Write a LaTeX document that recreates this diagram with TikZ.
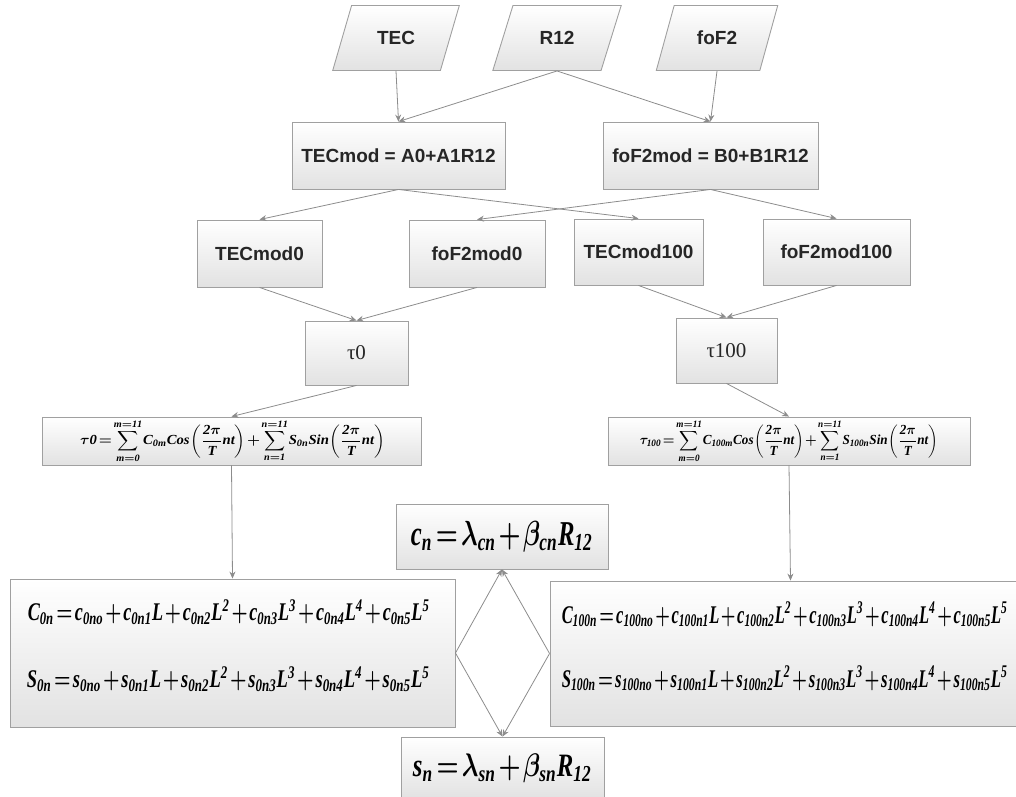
\documentclass[tikz,border=0pt]{standalone}
\usepackage{amsmath}
\usepackage{graphicx}
\usepackage{fontspec}
\setmainfont{Liberation Serif}
\newfontfamily\arialf{Liberation Sans}
\usetikzlibrary{arrows.meta,shapes.geometric,calc}
\definecolor{edgec}{HTML}{A0A0A0}
\definecolor{arrc}{HTML}{8C8C8C}
\definecolor{shadeb}{HTML}{E2E2E2}
\newcommand\tightmath{\thickmuskip=2mu\medmuskip=1.5mu\thinmuskip=1mu}
\newcommand\eqtauzero{\resizebox*{305pt}{43pt}{\tightmath$\displaystyle\mathit{\tau 0=\sum_{m=0}^{m=11}C_{0m}Cos\left(\frac{2\pi}{T}nt\right)+\sum_{n=1}^{n=11}S_{0n}Sin\left(\frac{2\pi}{T}nt\right)}$}}
\newcommand\eqtauhund{\resizebox*{298pt}{43pt}{\tightmath$\displaystyle\mathit{\tau_{100}=\sum_{m=0}^{m=11}C_{100m}Cos\left(\frac{2\pi}{T}nt\right)+\sum_{n=1}^{n=11}S_{100n}Sin\left(\frac{2\pi}{T}nt\right)}$}}
\newcommand\eqczero{\resizebox*{402pt}{25pt}{\tightmath$\mathit{C_{0n}=c_{0no}+c_{0n1}L+c_{0n2}L^2+c_{0n3}L^3+c_{0n4}L^4+c_{0n5}L^5}$}}
\newcommand\eqszero{\resizebox*{403pt}{25pt}{\tightmath$\mathit{S_{0n}=s_{0no}+s_{0n1}L+s_{0n2}L^2+s_{0n3}L^3+s_{0n4}L^4+s_{0n5}L^5}$}}
\newcommand\eqchund{\resizebox*{446pt}{25pt}{\tightmath$\mathit{C_{100n}=c_{100no}+c_{100n1}L+c_{100n2}L^2+c_{100n3}L^3+c_{100n4}L^4+c_{100n5}L^5}$}}
\newcommand\eqshund{\resizebox*{446pt}{25pt}{\tightmath$\mathit{S_{100n}=s_{100no}+s_{100n1}L+s_{100n2}L^2+s_{100n3}L^3+s_{100n4}L^4+s_{100n5}L^5}$}}
\newcommand\eqcn{\resizebox*{182pt}{31pt}{\tightmath$\mathit{c_n=\lambda_{cn}+\beta_{cn}R_{12}}$}}
\newcommand\eqsn{\resizebox*{179pt}{29pt}{\tightmath$\mathit{s_n=\lambda_{sn}+\beta_{sn}R_{12}}$}}
\tikzset{
  box/.style={draw=edgec, line width=0.9pt, top color=white, bottom color=shadeb, inner sep=0pt},
  para/.style={box, trapezium, trapezium left angle=59, trapezium right angle=121, trapezium stretches=true, minimum height=65},
  lbl/.style={font=\arialf\bfseries\fontsize{19}{22}\selectfont, text=black!85},
  taulbl/.style={font=\fontsize{21}{24}\selectfont, text=black!85},
  conn/.style={draw=arrc, line width=0.8pt, -{Stealth[length=7pt,width=6pt]}},
  eqsmall/.style={inner sep=0pt, text=black, font=\boldmath},
  eqmid/.style={inner sep=0pt, text=black, font=\boldmath, anchor=west},
  eqbig/.style={font=\boldmath},
}
\begin{document}
\begin{tikzpicture}[x=1pt,y=-1pt]
\useasboundingbox (0,0) rectangle (1016,796);
% inputs
\node[para, lbl, minimum width=127] (tec) at (396,38) {TEC};
\node[para, lbl, minimum width=129] (r12) at (557,38) {R12};
\node[para, lbl, minimum width=122] (fof2) at (717,38) {foF2};
% models
\node[box, lbl, minimum width=213, minimum height=67] (tecmod) at (398.5,155.5) {TECmod = A0+A1R12};
\node[box, lbl, minimum width=215, minimum height=67] (fof2mod) at (710.5,155.5) {foF2mod = B0+B1R12};
% level models
\node[box, lbl, minimum width=125, minimum height=67] (tecmod0) at (259.5,253.5) {TECmod0};
\node[box, lbl, minimum width=136, minimum height=67] (fof2mod0) at (477,253.5) {foF2mod0};
\node[box, lbl, minimum width=129, minimum height=66] (tecmod100) at (638.5,252) {TECmod100};
\node[box, lbl, minimum width=147, minimum height=66] (fof2mod100) at (836.5,252) {foF2mod100};
% tau
\node[box, taulbl, minimum width=103, minimum height=64] (tau0) at (356.5,353) {τ0};
\node[box, taulbl, minimum width=101, minimum height=65] (tau100) at (726.5,350.5) {τ100};
% tau formulas
\node[box, minimum width=379, minimum height=48] (f0) at (231.5,441) {};
\node[eqsmall] (f0t) at ($(f0.center)+(1,0)$) {\eqtauzero};
\node[box, minimum width=362, minimum height=48] (f100) at (789,441) {};
\node[eqsmall] (f100t) at (f100.center) {\eqtauhund};
% coefficient boxes
\node[box, minimum width=445, minimum height=148] (c0) at (232.5,653) {};
\node[eqmid] (c0a) at ($(c0.west)+(18,-41)$) {\eqczero};
\node[eqmid] (c0b) at ($(c0.west)+(17,26)$) {\eqszero};
\node[box, minimum width=481, minimum height=145] (c100) at (790.5,653.5) {};
\node[eqmid] (c100a) at ($(c100.west)+(12,-39)$) {\eqchund};
\node[eqmid] (c100b) at ($(c100.west)+(12,25)$) {\eqshund};
% lambda/beta boxes
\node[box, eqbig, minimum width=212, minimum height=65] (cn) at (502,536.5) {\eqcn};
\node[box, eqbig, minimum width=203, minimum height=62] (sn) at (502.5,768) {\eqsn};
% connectors
\draw[conn] (tec.south) -- (tecmod.north);
\draw[conn] (r12.south) -- (tecmod.north);
\draw[conn] (r12.south) -- (fof2mod.north);
\draw[conn] (fof2.south) -- (fof2mod.north);
\draw[conn] (tecmod.south) -- (tecmod0.north);
\draw[conn] (tecmod.south) -- (tecmod100.north);
\draw[conn] (fof2mod.south) -- (fof2mod0.north);
\draw[conn] (fof2mod.south) -- (fof2mod100.north);
\draw[conn] (tecmod0.south) -- (tau0.north);
\draw[conn] (fof2mod0.south) -- (tau0.north);
\draw[conn] (tecmod100.south) -- (tau100.north);
\draw[conn] (fof2mod100.south) -- (tau100.north);
\draw[conn] (tau0.south) -- (f0.north);
\draw[conn] (tau100.south) -- (f100.north);
\draw[conn] (f0.south) -- (c0.north);
\draw[conn] (f100.south) -- (c100.north);
\draw[conn] (c0.east) -- (cn.south);
\draw[conn] (c100.west) -- (cn.south);
\draw[conn] (c0.east) -- (sn.north);
\draw[conn] (c100.west) -- (sn.north);
\end{tikzpicture}
\end{document}
